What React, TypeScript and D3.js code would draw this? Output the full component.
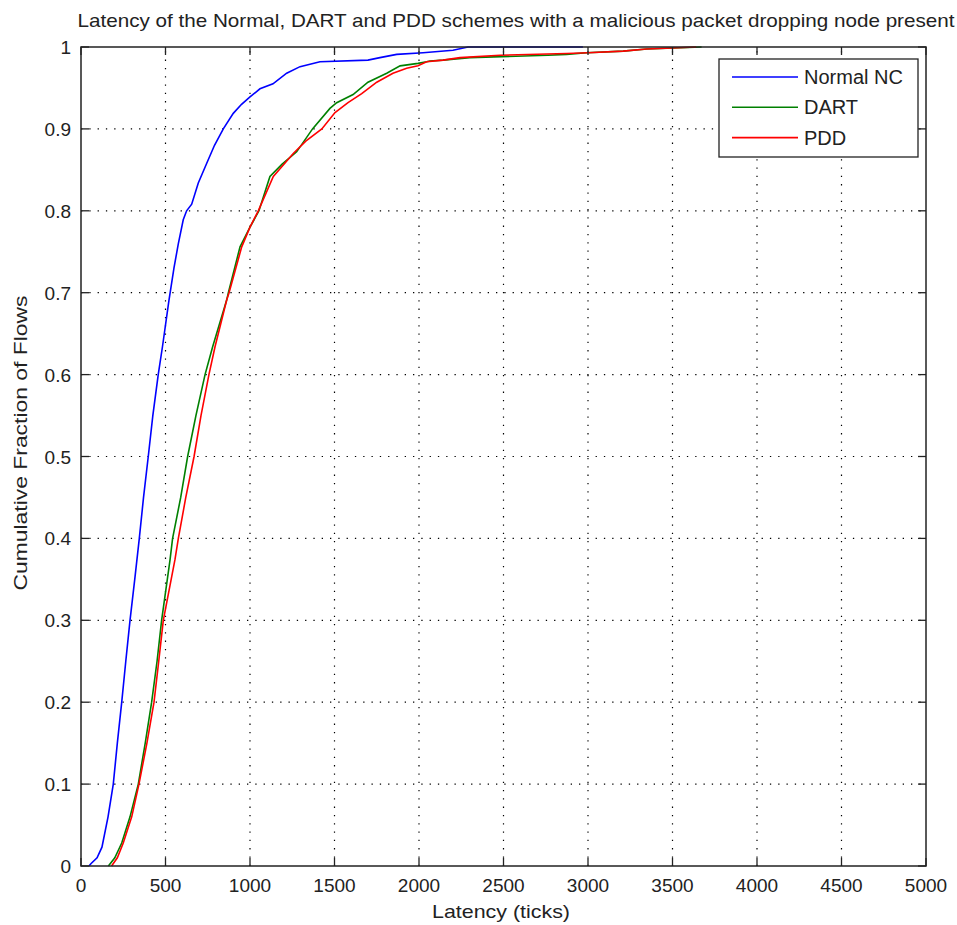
import React from "react";
import * as d3 from "d3";

const titleText = "Latency of the Normal, DART and PDD schemes with a malicious packet dropping node present";
const xLabel = "Latency (ticks)";
const yLabel = "Cumulative Fraction of Flows";
const xTicks = [0, 500, 1000, 1500, 2000, 2500, 3000, 3500, 4000, 4500, 5000];
const yTicks = [0, 0.1, 0.2, 0.3, 0.4, 0.5, 0.6, 0.7, 0.8, 0.9, 1];
const yTickLabels = ["0", "0.1", "0.2", "0.3", "0.4", "0.5", "0.6", "0.7", "0.8", "0.9", "1"];
const seriesNames = ["Normal NC", "DART", "PDD"];
const seriesColors = ["#0000ff", "#008000", "#ff0000"];

const normalX = [47, 60, 95, 124, 160, 191, 215, 241, 265, 290, 318, 345, 370, 398, 425, 457, 482, 520, 550, 576, 605, 625, 655, 694, 744, 790, 842, 901, 950, 1000, 1059, 1136, 1217, 1296, 1414, 1698, 1769, 1868, 2024, 2201, 2290, 2970];
const normalY = [0, 0.003, 0.01, 0.023, 0.06, 0.1, 0.15, 0.2, 0.25, 0.3, 0.35, 0.4, 0.45, 0.5, 0.55, 0.6, 0.634, 0.69, 0.73, 0.76, 0.789, 0.8, 0.808, 0.834, 0.858, 0.88, 0.9, 0.919, 0.93, 0.939, 0.949, 0.955, 0.968, 0.976, 0.982, 0.984, 0.987, 0.991, 0.993, 0.996, 1.0, 1.0];

const dartX = [162, 200, 241, 290, 339, 380, 418, 450, 477, 527, 542, 590, 631, 680, 734, 779, 862, 872, 941, 1000, 1053, 1118, 1190, 1276, 1370, 1473, 1513, 1610, 1698, 1809, 1888, 1994, 2045, 2065, 2142, 2301, 2763, 2873, 2992, 3208, 3347, 3672];
const dartY = [0, 0.01, 0.028, 0.06, 0.1, 0.15, 0.2, 0.25, 0.3, 0.374, 0.4, 0.45, 0.5, 0.55, 0.6, 0.634, 0.691, 0.7, 0.756, 0.78, 0.8, 0.842, 0.857, 0.872, 0.9, 0.925, 0.932, 0.942, 0.957, 0.968, 0.977, 0.98, 0.982, 0.983, 0.984, 0.987, 0.99, 0.991, 0.993, 0.995, 0.9975, 1.0];

const pddX = [181, 215, 250, 300, 343, 390, 432, 460, 487, 556, 576, 620, 669, 710, 757, 793, 862, 876, 951, 1000, 1049, 1138, 1256, 1330, 1425, 1503, 1580, 1661, 1750, 1846, 1927, 1994, 2045, 2142, 2243, 2479, 2873, 3000, 3208, 3347, 3640];
const pddY = [0, 0.01, 0.028, 0.06, 0.1, 0.15, 0.2, 0.25, 0.3, 0.374, 0.4, 0.45, 0.5, 0.55, 0.6, 0.634, 0.691, 0.7, 0.756, 0.78, 0.8, 0.842, 0.87, 0.885, 0.9, 0.92, 0.932, 0.943, 0.957, 0.968, 0.974, 0.977, 0.982, 0.984, 0.987, 0.99, 0.992, 0.993, 0.995, 0.9975, 1.0];

const W = 957;
const H = 925;
const M = { left: 81, right: 926, top: 47, bottom: 866 };
const FONT = "'Liberation Sans', Arial, sans-serif";

export default function App() {
  const x = d3.scaleLinear().domain([0, 5000]).range([M.left, M.right]);
  const y = d3.scaleLinear().domain([0, 1]).range([M.bottom, M.top]);
  const line = d3
    .line<[number, number]>()
    .x((d) => x(d[0]))
    .y((d) => y(d[1]))
    .curve(d3.curveLinear);

  const series = [
    d3.zip(normalX, normalY) as [number, number][],
    d3.zip(dartX, dartY) as [number, number][],
    d3.zip(pddX, pddY) as [number, number][],
  ];

  const tickLen = 8;
  const axisColor = "#222";

  return (
    <svg
      width={W}
      height={H}
      style={{ position: "absolute", left: 0, top: 0, background: "#fff" }}
      fontFamily={FONT}
    >
      <rect x={0} y={0} width={W} height={H} fill="#fff" />
      {/* grid */}
      <g stroke="#000" strokeWidth={1.2} strokeDasharray="1.3 7">
        {xTicks.slice(1, -1).map((t) => (
          <line key={"gx" + t} x1={x(t)} x2={x(t)} y1={M.bottom} y2={M.top} />
        ))}
        {yTicks.slice(1, -1).map((t) => (
          <line key={"gy" + t} x1={M.left} x2={M.right} y1={y(t)} y2={y(t)} />
        ))}
      </g>
      {/* data */}
      {series.map((s, i) => (
        <path key={i} d={line(s) || ""} fill="none" stroke={seriesColors[i]} strokeWidth={1.6} />
      ))}
      {/* ticks */}
      <g stroke={axisColor} strokeWidth={1.3}>
        {xTicks.map((t) => (
          <g key={"tx" + t}>
            <line x1={x(t)} x2={x(t)} y1={M.bottom} y2={M.bottom - tickLen} />
            <line x1={x(t)} x2={x(t)} y1={M.top} y2={M.top + tickLen} />
          </g>
        ))}
        {yTicks.map((t) => (
          <g key={"ty" + t}>
            <line x1={M.left} x2={M.left + tickLen} y1={y(t)} y2={y(t)} />
            <line x1={M.right} x2={M.right - tickLen} y1={y(t)} y2={y(t)} />
          </g>
        ))}
      </g>
      <rect
        x={M.left}
        y={M.top}
        width={M.right - M.left}
        height={M.bottom - M.top}
        fill="none"
        stroke={axisColor}
        strokeWidth={1.5}
      />
      {/* tick labels */}
      <g fontSize={19} fill="#222">
        {xTicks.map((t) => (
          <text key={"lx" + t} x={x(t)} y={892} textAnchor="middle">
            {String(t)}
          </text>
        ))}
        {yTicks.map((t, i) => (
          <text key={"ly" + t} x={M.left - 10} y={y(t) + 7} textAnchor="end">
            {yTickLabels[i]}
          </text>
        ))}
      </g>
      {/* title and labels */}
      <text x={516} y={27} fontSize={19} textAnchor="middle" fill="#222" textLength={877} lengthAdjust="spacingAndGlyphs">
        {titleText}
      </text>
      <text x={501} y={918} fontSize={19} textAnchor="middle" fill="#222" textLength={138} lengthAdjust="spacingAndGlyphs">
        {xLabel}
      </text>
      <text
        transform={`translate(27,443) rotate(-90)`}
        fontSize={19}
        textAnchor="middle"
        fill="#222"
        textLength={295}
        lengthAdjust="spacingAndGlyphs"
      >
        {yLabel}
      </text>
      {/* legend */}
      <g>
        <rect x={719} y={59} width={199} height={98} fill="#fff" stroke={axisColor} strokeWidth={1.3} />
        {seriesNames.map((n, i) => {
          const ly = 77 + i * 30.3;
          return (
            <g key={n}>
              <line x1={732} x2={798} y1={ly} y2={ly} stroke={seriesColors[i]} strokeWidth={1.6} />
              <text x={804} y={ly + 7} fontSize={20} fill="#222">
                {n}
              </text>
            </g>
          );
        })}
      </g>
    </svg>
  );
}
